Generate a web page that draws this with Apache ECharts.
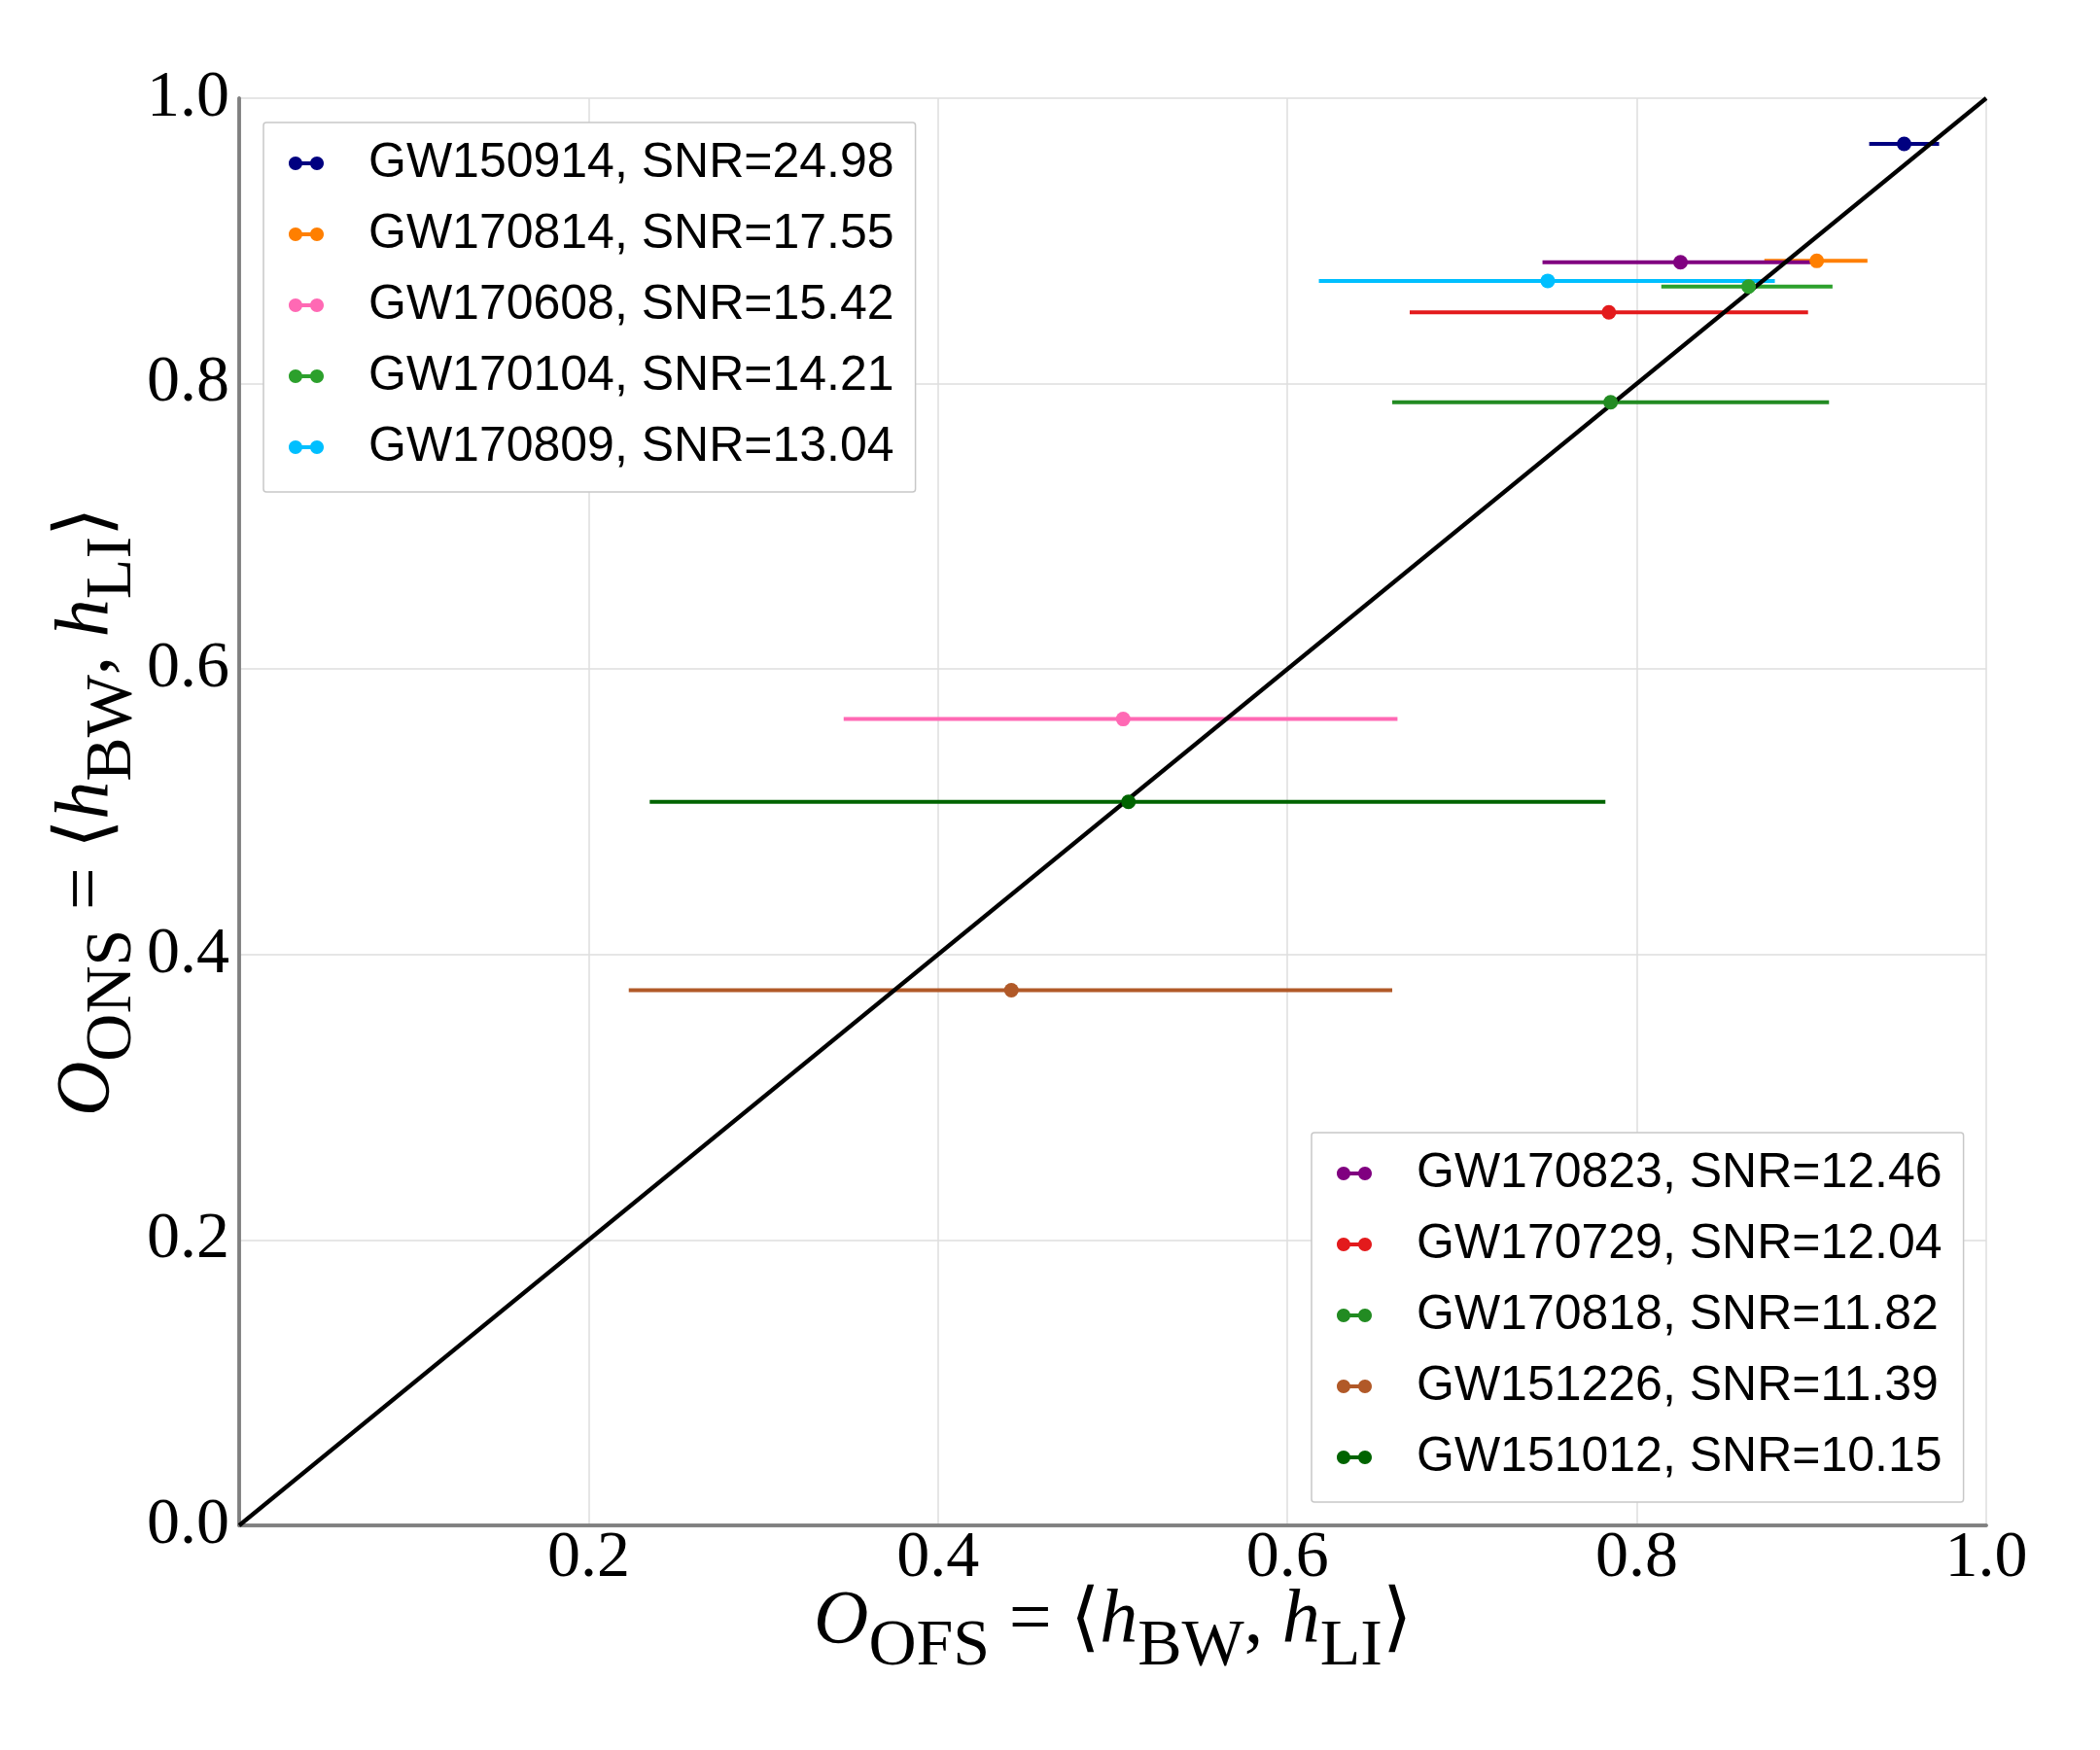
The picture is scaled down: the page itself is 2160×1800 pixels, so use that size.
<!DOCTYPE html>
<html>
<head>
<meta charset="utf-8">
<script src="https://cdn.jsdelivr.net/npm/echarts@6/dist/echarts.min.js"></script>
<style>
html,body{margin:0;padding:0;background:#fff;}
#chart{width:2160px;height:1800px;}
</style>
</head>
<body>
<div id="chart"></div>
<script>
// ---- data ----
const events   = ['GW150914','GW170814','GW170608','GW170104','GW170809','GW170823','GW170729','GW170818','GW151226','GW151012'];
const snr      = [24.98, 17.55, 15.42, 14.21, 13.04, 12.46, 12.04, 11.82, 11.39, 10.15];
const ofs      = [0.953, 0.903, 0.506, 0.864, 0.749, 0.825, 0.784, 0.785, 0.442, 0.509];
const ons      = [0.968, 0.886, 0.565, 0.868, 0.872, 0.885, 0.850, 0.787, 0.375, 0.507];
const ofsLow   = [0.933, 0.873, 0.346, 0.814, 0.618, 0.746, 0.670, 0.660, 0.223, 0.235];
const ofsHigh  = [0.973, 0.932, 0.663, 0.912, 0.879, 0.900, 0.898, 0.910, 0.660, 0.782];
const colors   = ['#000080','#ff7f00','#ff69b4','#2ca02c','#00bfff','#800080','#e31a1c','#228b22','#b15928','#006400'];
const diagonal = [[0, 0], [1, 1]];
const axisTicks = [0, 0.2, 0.4, 0.6, 0.8, 1.0];

const labels = events.map((e, i) => e + ', SNR=' + snr[i].toFixed(2));
const legendIcon = 'path://M0,7C0,3.134,3.134,0,7,0C10.866,0,14,3.134,14,7C14,10.866,10.866,14,7,14C3.134,14,0,10.866,0,7Z' +
  'M22,7C22,3.134,25.134,0,29,0C32.866,0,36,3.134,36,7C36,10.866,32.866,14,29,14C25.134,14,22,10.866,22,7Z' +
  'M7,5L29,5L29,9L7,9Z';

const chart = echarts.init(document.getElementById('chart'), null, {renderer: 'canvas'});

function renderBar(params, api) {
  const y = api.value(1), lo = api.value(2), hi = api.value(3);
  const p0 = api.coord([lo, y]), p1 = api.coord([hi, y]);
  return {
    type: 'line',
    shape: {x1: p0[0], y1: p0[1], x2: p1[0], y2: p1[1]},
    style: {stroke: api.visual('color'), lineWidth: 4}
  };
}

const series = [];
events.forEach((e, i) => {
  series.push({
    name: labels[i],
    type: 'custom',
    renderItem: renderBar,
    itemStyle: {color: colors[i]},
    encode: {x: 0, y: 1},
    data: [[ofs[i], ons[i], ofsLow[i], ofsHigh[i]]],
    z: 2 + i * 0.01
  });
});
series.push({
  name: 'diagonal',
  type: 'line',
  data: diagonal,
  symbol: 'none',
  lineStyle: {color: '#000', width: 4.2},
  z: 3,
  silent: true
});
events.forEach((e, i) => {
  series.push({
    name: labels[i],
    type: 'scatter',
    symbol: 'circle',
    symbolSize: 15,
    itemStyle: {color: colors[i], opacity: 1},
    data: [[ofs[i], ons[i]]],
    z: 4 + i * 0.01,
    silent: true
  });
});

const serif = 'Liberation Serif';
const rich = {
  o: {fontFamily: serif, fontStyle: 'italic', fontSize: 78, lineHeight: 119, verticalAlign: 'middle', color: '#000'},
  h: {fontFamily: serif, fontStyle: 'italic', fontSize: 78, lineHeight: 119, verticalAlign: 'middle', color: '#000'},
  n: {fontFamily: serif, fontSize: 78, lineHeight: 119, verticalAlign: 'middle', color: '#000'},
  s: {fontFamily: serif, fontSize: 68, lineHeight: 68, verticalAlign: 'bottom', color: '#000'}
};

function legendOf(idx, pos) {
  return Object.assign({
    orient: 'vertical',
    data: idx.map(i => ({name: labels[i], icon: legendIcon, itemStyle: {color: colors[i], borderWidth: 0, opacity: 1}})),
    itemWidth: 36,
    itemHeight: 14,
    itemGap: 23,
    padding: [17, 22, 21, 26],
    backgroundColor: '#fff',
    borderColor: '#c8c8c8',
    borderWidth: 1.5,
    borderRadius: 3,
    selectedMode: false,
    textStyle: {fontFamily: 'Liberation Sans', fontSize: 50, lineHeight: 50, color: '#000', padding: [0, 0, 0, 41]}
  }, pos);
}

const frameLine = {show: true, lineStyle: {color: '#808080', width: 3.5}};
const option = {
  animation: false,
  backgroundColor: '#fff',
  grid: {left: 246, top: 101, width: 1797, height: 1468, show: false},
  legend: [
    legendOf([0, 1, 2, 3, 4], {left: 271, top: 126}),
    legendOf([5, 6, 7, 8, 9], {left: 1349, top: 1165})
  ],
  xAxis: [{
    type: 'value', min: axisTicks[0], max: axisTicks[axisTicks.length - 1], interval: 0.2,
    axisLine: frameLine,
    axisTick: {show: false},
    splitLine: {show: true, lineStyle: {color: '#dedede', width: 1.5}},
    axisLabel: {fontFamily: serif, fontSize: 68, lineHeight: 68, color: '#000', margin: 0,
      formatter: v => v === 0 ? '' : v.toFixed(1)},
    name: '{o|O}{s|OFS}{n| = ⟨}{h|h}{s|BW}{n|, }{h|h}{s|LI}{n|⟩}',
    nameLocation: 'middle',
    nameGap: 40,
    nameMoveOverlap: false,
    nameTextStyle: {rich: rich}
  }, {
    type: 'value', position: 'top', min: axisTicks[0], max: axisTicks[axisTicks.length - 1], interval: 0.2,
    axisLine: frameLine, axisTick: {show: false}, axisLabel: {show: false}, splitLine: {show: false}
  }],
  yAxis: [{
    type: 'value', min: axisTicks[0], max: axisTicks[axisTicks.length - 1], interval: 0.2,
    axisLine: frameLine,
    axisTick: {show: false},
    splitLine: {show: true, lineStyle: {color: '#dedede', width: 1.5}},
    axisLabel: {fontFamily: serif, fontSize: 68, color: '#000', margin: 10,
      formatter: v => v.toFixed(1)},
    name: '{o|O}{s|ONS}{n| = ⟨}{h|h}{s|BW}{n|, }{h|h}{s|LI}{n|⟩}',
    nameLocation: 'middle',
    nameRotate: 90,
    nameGap: 96,
    nameMoveOverlap: false,
    nameTextStyle: {rich: rich}
  }, {
    type: 'value', position: 'right', min: axisTicks[0], max: axisTicks[axisTicks.length - 1], interval: 0.2,
    axisLine: frameLine, axisTick: {show: false}, axisLabel: {show: false}, splitLine: {show: false}
  }],
  series: series
};
chart.setOption(option);
</script>
</body>
</html>
